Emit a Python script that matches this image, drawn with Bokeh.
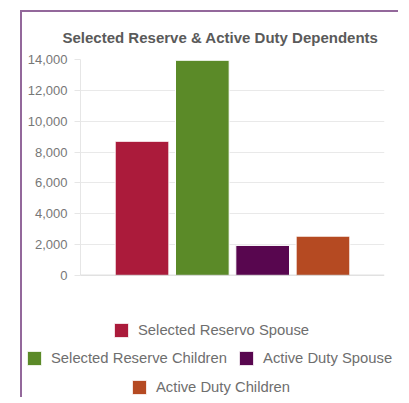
from bokeh.plotting import figure
from bokeh.models import (ColumnDataSource, FactorRange, Range1d, Legend, LegendItem,
                          SingleIntervalTicker, NumeralTickFormatter, Span)
from bokeh.embed import file_html
from bokeh.resources import INLINE

title_text = "Selected Reserve & Active Duty Dependents"
series = ["Selected Reservo Spouse", "Selected Reserve Children",
          "Active Duty Spouse", "Active Duty Children"]
values = [8700, 13950, 1950, 2550]
colors = ["#ab1b3b", "#5b8a28", "#58064f", "#b54a22"]
legend_rows = [[0], [1, 2], [3]]

FONT = "Liberation Sans"
BORDER = "#93689b"
W = 378

src = ColumnDataSource(dict(name=series, value=values, color=colors))

p = figure(width=W, height=273, output_backend="svg", toolbar_location=None,
           x_range=FactorRange(factors=series, range_padding=0.26),
           y_range=Range1d(0, 14000),
           min_border_left=58, min_border_right=16, min_border_top=47,
           min_border_bottom=10)
p.styles = {"margin-left": "20px", "margin-top": "10px",
            "border-left": f"2px solid {BORDER}", "border-top": f"2px solid {BORDER}"}
p.outline_line_color = None
p.background_fill_color = "white"
p.border_fill_color = "white"

p.title.text = title_text
p.title.align = "left"
p.title.offset = -18
p.title.text_font = FONT
p.title.text_font_size = "15px"
p.title.text_font_style = "bold"
p.title.text_color = "#5a5a5a"
p.title.standoff = 27

r = p.vbar(x="name", top="value", width=0.89, source=src, fill_color="color",
           line_color="white", line_width=1)

p.xaxis.visible = False
p.xgrid.grid_line_color = None
ax = p.yaxis[0]
ax.ticker = SingleIntervalTicker(interval=2000)
ax.formatter = NumeralTickFormatter(format="0,0")
ax.axis_line_color = "#e6e6e6"
ax.major_tick_line_color = "#e6e6e6"
ax.major_tick_out = 6
ax.major_tick_in = 0
ax.minor_tick_line_color = None
ax.major_label_standoff = 7
ax.major_label_text_font = FONT
ax.major_label_text_font_size = "13px"
ax.major_label_text_color = "#777777"
p.ygrid.grid_line_color = "#e9e9e9"

p.add_layout(Span(location=0, dimension="width", line_color="#c4c4c4", line_width=1.5))

# legend area: a second, axis-less figure (separate root) below the chart
p2 = figure(width=W, height=114, output_backend="svg", toolbar_location=None,
            x_range=FactorRange(factors=series), y_range=Range1d(0, 14000),
            min_border=0)
p2.styles = {"margin-left": "20px", "border-left": f"2px solid {BORDER}"}
p2.axis.visible = False
p2.grid.grid_line_color = None
p2.outline_line_color = None
p2.background_fill_color = "white"
p2.border_fill_color = "white"
r2 = p2.vbar(x="name", top="value", width=0.89, source=src, fill_color="color",
             line_color="white", line_width=1, visible=False)

row_x = [90, 3, 108]
row_y = [58, 30, 1]
for row, lx, ly in zip(legend_rows, row_x, row_y):
    items = [LegendItem(label=series[i], renderers=[r2], index=i) for i in row]
    lg = Legend(items=items, location=(lx, ly), orientation="horizontal",
                padding=0, margin=0, spacing=10, label_standoff=8,
                glyph_width=18, glyph_height=18, label_height=18,
                label_text_font=FONT, label_text_font_size="14.8px",
                label_text_color="#6e6e6e", border_line_color=None,
                background_fill_alpha=0)
    p2.add_layout(lg, "center")

open("out.html", "w").write(file_html([p, p2], INLINE))
